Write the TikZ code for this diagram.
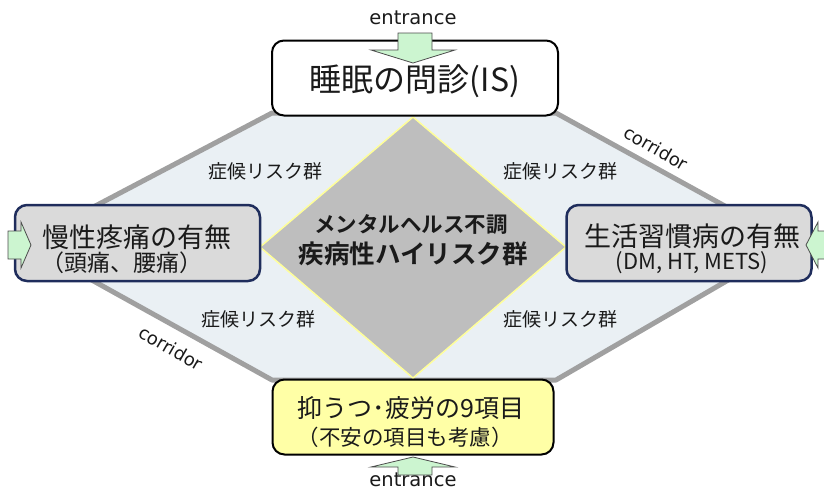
\documentclass[tikz,border=0pt]{standalone}
\usepackage{fontspec}
\setmainfont{DejaVu Sans}
\newfontfamily\jp{Noto Sans CJK JP}
\newfontfamily\jpb{Noto Sans CJK JP Bold}
\definecolor{hexfill}{HTML}{EAF0F4}
\definecolor{hexline}{HTML}{A0A0A0}
\definecolor{diafill}{HTML}{BEBEBE}
\definecolor{dialine}{HTML}{FFFF99}
\definecolor{navy}{HTML}{1F2D5C}
\definecolor{boxgrey}{HTML}{DADADA}
\definecolor{boxyellow}{HTML}{FFFFA6}
\definecolor{arrgreen}{HTML}{CCF5D0}
\definecolor{txt}{HTML}{1A1A1A}
\begin{document}
\begin{tikzpicture}[x=1pt,y=-1pt,
  hexa/.style={fill=hexfill,draw=hexline,line width=5pt,line join=round},
  dia/.style={fill=diafill,draw=dialine,line width=1.5pt},
  tbbox/.style={draw=black,line width=2pt,rounded corners=12pt,minimum width=286pt,minimum height=75pt,inner sep=0pt},
  sidebox/.style={draw=navy,fill=boxgrey,line width=2.5pt,rounded corners=12pt,minimum width=245pt,minimum height=76pt,inner sep=0pt},
  garrow/.style={fill=arrgreen,draw=black!70,line width=0.8pt,line join=miter},
  lab/.style={text=txt,font=\jp\fontsize{19}{19}\selectfont,inner sep=0pt},
  cor/.style={text=txt,font=\fontsize{18}{18}\selectfont,inner sep=0pt,rotate=-30},
  ent/.style={text=txt,font=\fontsize{19.5}{19.5}\selectfont,inner sep=0pt}
]
\useasboundingbox (0,0) rectangle (824,490);
% hexagon background
\draw[hexa] (272,113) -- (556,113) -- (792,243) -- (556,380) -- (272,380) -- (25,243) -- cycle;
% diamond
\draw[dia] (413,117) -- (566,247) -- (413,378) -- (260,247) -- cycle;
% boxes
\node[tbbox,fill=white] (top) at (415,78) {};
\node[text=txt,font=\jp\fontsize{32}{32}\selectfont,inner sep=0pt] (toptxt) at (415,81) {睡眠の問診(IS)};
\node[tbbox,fill=boxyellow,minimum width=281pt] (bot) at (413,417) {};
\node[text=txt,font=\jp\fontsize{25}{25}\selectfont,inner sep=0pt] (bot1) at (411,408) {抑うつ･疲労の9項目};
\node[text=txt,font=\jp\fontsize{21.5}{21.5}\selectfont,inner sep=0pt] (bot2) at (405,437) {（不安の項目も考慮）};
\node[sidebox] (left) at (137.5,243) {};
\node[text=txt,font=\jp\fontsize{27}{27}\selectfont,inner sep=0pt] (left1) at (137,237) {慢性疼痛の有無};
\node[text=txt,font=\jp\fontsize{23}{23}\selectfont,inner sep=0pt] (left2) at (122,263) {（頭痛、腰痛）};
\node[sidebox] (right) at (689,243) {};
\node[text=txt,font=\jp\fontsize{27}{27}\selectfont,inner sep=0pt] (right1) at (692,236) {生活習慣病の有無};
\node[text=txt,font=\jp\fontsize{22}{22}\selectfont,inner sep=0pt] (right2) at (692,263) {(DM, HT, METS)};
% diamond text
\node[text=txt,font=\jpb\fontsize{21.5}{21.5}\selectfont,inner sep=0pt] (d1) at (411,225) {メンタルヘルス不調};
\node[text=txt,font=\jpb\fontsize{25.5}{25.5}\selectfont,inner sep=0pt] (d2) at (413,254) {疾病性ハイリスク群};
% labels
\node[lab] (l1) at (265,171) {症候リスク群};
\node[lab] (l2) at (560,171) {症候リスク群};
\node[lab] (l3) at (258,319) {症候リスク群};
\node[lab] (l4) at (560,319) {症候リスク群};
\node[cor] (c1) at (656,148) {corridor};
\node[cor] (c2) at (171,348) {corridor};
% entrance arrows
\node[ent] (e1) at (413,18) {entrance};
\node[ent] (e2) at (413,480) {entrance};
\draw[garrow] (398,33) -- (432,33) -- (432,50) -- (455,50) -- (413,63) -- (371,50) -- (398,50) -- cycle;
\draw[garrow] (398,475) -- (432,475) -- (432,467) -- (455,467) -- (413,457) -- (371,467) -- (398,467) -- cycle;
\draw[garrow] (8,231) -- (21,231) -- (21,222) -- (31,245) -- (21,268) -- (21,259) -- (8,259) -- cycle;
\draw[garrow] (826,231) -- (818,231) -- (818,222) -- (806,245) -- (818,268) -- (818,259) -- (826,259) -- cycle;
\end{tikzpicture}
\end{document}
